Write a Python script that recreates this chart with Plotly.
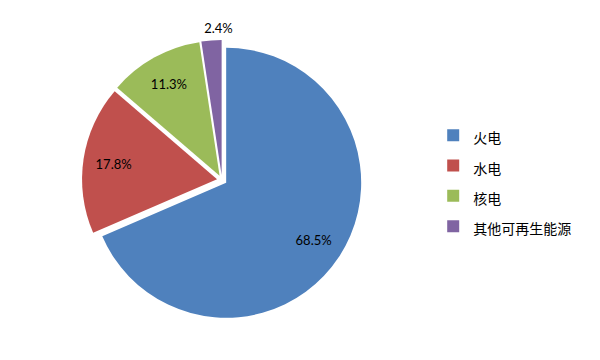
import plotly.graph_objects as go

labels = ["火电", "水电", "核电", "其他可再生能源"]
values = [68.5, 17.8, 11.3, 2.4]
colors = ["#4F81BD", "#C0504D", "#9BBB59", "#8064A2"]

W, H = 600, 360
cx, cy, R = 222, 180, 140          # pie centre and domain half-size in px
dom = dict(x=[(cx - R) / W, (cx + R) / W], y=[(H - cy - R) / H, (H - cy + R) / H])
pulls = [0.037] * 4

legend_labels = [f"<span style='font-size:14px'>{l}</span>" for l in labels]
label_font = dict(family="Lato, Liberation Sans, sans-serif", size=13, color="#000000")
common = dict(sort=False, direction="clockwise", rotation=0)

fig = go.Figure()
# main pie
fig.add_trace(go.Pie(
    labels=legend_labels, values=values, pull=pulls,
    marker=dict(colors=colors, line=dict(width=0)),
    textinfo="none", domain=dom,
    hovertemplate="%{value:.1f}%<extra></extra>",
    **common,
))
# transparent ring carrying the inside percentage labels
fig.add_trace(go.Pie(
    labels=legend_labels, values=values, pull=pulls, hole=0.55,
    marker=dict(colors=["rgba(0,0,0,0)"] * 4, line=dict(width=0)),
    texttemplate=["%{value:.1f}%"] * 3 + [""],
    textposition="inside", insidetextorientation="horizontal",
    textfont=label_font, domain=dom,
    showlegend=False, hoverinfo="skip",
    **common,
))
# larger transparent pie carrying the label of the small slice, outside the main pie
R2 = 163
dom2 = dict(x=[(cx - R2) / W, (cx + R2) / W], y=[(H - cy - R2) / H, (H - cy + R2) / H])
fig.add_trace(go.Pie(
    labels=legend_labels, values=values,
    marker=dict(colors=["rgba(0,0,0,0)"] * 4, line=dict(width=0)),
    texttemplate=[""] * 3 + ["%{value:.1f}%"],
    textposition="inside", insidetextorientation="horizontal",
    textfont=label_font, domain=dom2,
    showlegend=False, hoverinfo="skip",
    sort=False, direction="clockwise", rotation=3,
))

fig.update_layout(
    width=W, height=H,
    margin=dict(l=0, r=0, t=0, b=0, autoexpand=False),
    paper_bgcolor="white",
    plot_bgcolor="white",
    showlegend=True,
    legend=dict(
        x=0.722, y=0.497, xanchor="left", yanchor="middle",
        font=dict(family="Noto Sans CJK SC", size=21, color="#000000"),
        bgcolor="rgba(0,0,0,0)",
        itemclick=False,
    ),
    uniformtext=dict(minsize=13, mode="show"),
)

fig.write_html("out.html", config={"displayModeBar": False},
               post_script="document.body.style.margin='0';")
